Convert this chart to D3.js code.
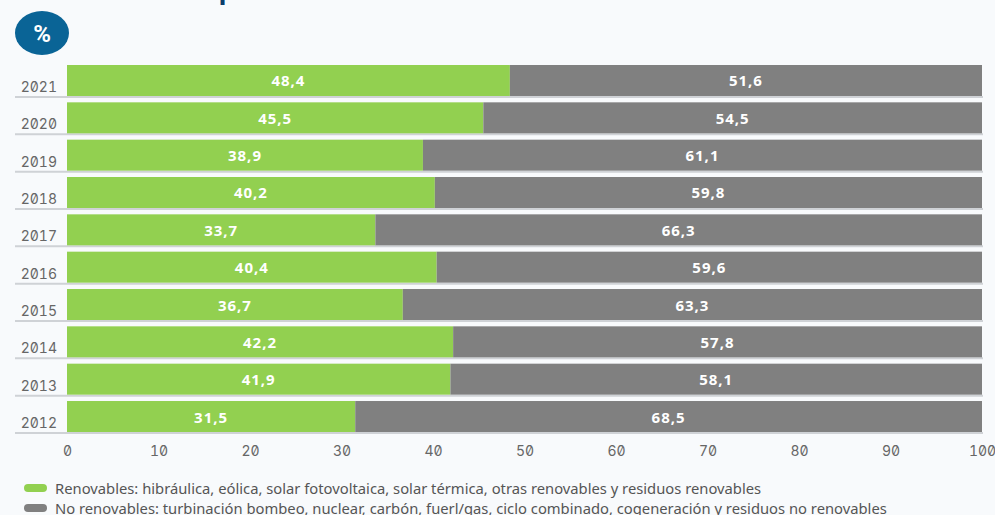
<!DOCTYPE html>
<html><head><meta charset="utf-8">
<script src="https://cdn.jsdelivr.net/npm/d3@7"></script>
<style>
html,body{margin:0;padding:0;background:#f8fafc;}
svg{display:block;}
.num{font-family:Inter,"DejaVu Sans";font-feature-settings:"zero" 1,"tnum" 1;font-size:14px;fill:#666;}
</style></head><body>
<svg id="chart" width="995" height="515"></svg>
<script>
const years = ["2021","2020","2019","2018","2017","2016","2015","2014","2013","2012"];
const renovables = [48.4,45.5,38.9,40.2,33.7,40.4,36.7,42.2,41.9,31.5];
const noRenovables = [51.6,54.5,61.1,59.8,66.3,59.6,63.3,57.8,58.1,68.5];
const xTicks = [0,10,20,30,40,50,60,70,80,90,100];
const seriesNames = ["Renovables: hibráulica, eólica, solar fotovoltaica, solar térmica, otras renovables y residuos renovables",
 "No renovables: turbinación bombeo, nuclear, carbón, fuerl/gas, ciclo combinado, cogeneración y residuos no renovables"];
const colors = ["#92d050","#808080"];

const svg = d3.select("#chart");
const x = d3.scaleLinear().domain([0,100]).range([67,982]);
const y = d3.scaleBand().domain(years).range([65,432]).paddingInner(0.17).paddingOuter(0);

// title fragment (cut off at top)
svg.append("text").attr("x",219).attr("y",-1).attr("fill","#0b3d6b")
  .style("font-family","Roboto").style("font-size","28px").style("font-weight","bold").text("p");

// badge
svg.append("ellipse").attr("cx",42).attr("cy",33).attr("rx",27).attr("ry",22).attr("fill","#0a6496");
svg.append("text").attr("x",42).attr("y",34).attr("text-anchor","middle").attr("dominant-baseline","central")
  .attr("fill","#fff").style("font-family","Roboto").style("font-weight","bold").style("font-size","24px").text("%");

const rows = svg.append("g").selectAll("g").data(years).join("g");
rows.append("line").attr("x1",15).attr("x2",983)
  .attr("y1",d=>y(d)+y.bandwidth()+1).attr("y2",d=>y(d)+y.bandwidth()+1)
  .attr("stroke","#cfd2d6").attr("stroke-width",2);
rows.append("text").attr("class","num").attr("x",57).attr("y",d=>y(d)+y.bandwidth()-4).attr("text-anchor","end").text(d=>d);

const stacks = [renovables, noRenovables];
stacks.forEach((vals,si)=>{
  const g = svg.append("g");
  g.selectAll("rect").data(years).join("rect")
    .attr("x",(d,i)=> si===0 ? x(0) : x(renovables[i]))
    .attr("width",(d,i)=> si===0 ? x(vals[i])-x(0) : x(renovables[i]+vals[i])-x(renovables[i]))
    .attr("y",d=>y(d)).attr("height",y.bandwidth()).attr("fill",colors[si]);
  g.selectAll("text").data(years).join("text")
    .attr("x",(d,i)=> si===0 ? (x(0)+x(vals[i]))/2 : (x(renovables[i])+x(renovables[i]+vals[i]))/2)
    .attr("y",d=>y(d)+y.bandwidth()/2).attr("dominant-baseline","central").attr("text-anchor","middle")
    .attr("fill","#fff").style("font-family","Open Sans").style("font-weight","bold").style("font-size","15px")
    .style("letter-spacing","1px")
    .text((d,i)=>vals[i].toFixed(1).replace(".",","));
});

const xa = svg.append("g").attr("transform","translate(0,450)")
  .call(d3.axisBottom(x).tickValues(xTicks).tickSize(0).tickPadding(0).tickFormat(d=>d));
xa.select(".domain").remove();
xa.attr("font-family",null).attr("font-size",null);
xa.selectAll("text").attr("class","num").attr("fill",null).attr("dy","0").attr("dominant-baseline","central");

const leg = svg.append("g").selectAll("g").data(seriesNames).join("g")
  .attr("transform",(d,i)=>`translate(0,${488+i*20})`);
leg.append("rect").attr("x",24).attr("y",-4).attr("width",23).attr("height",8).attr("rx",4).attr("fill",(d,i)=>colors[i]);
const lt = leg.append("text").attr("x",55).attr("y",0).attr("dominant-baseline","central").attr("fill","#555")
  .style("font-family","Noto Sans").style("font-size","14.5px").text(d=>d);
const w0 = lt.nodes()[0].getComputedTextLength();
const fs = 14.5*707/w0;
lt.style("font-size",fs+"px");
</script></body></html>
